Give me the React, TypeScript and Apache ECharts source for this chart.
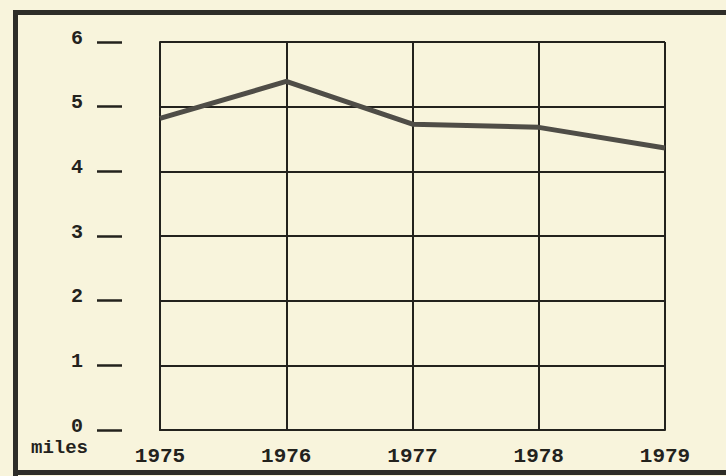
import React, { useEffect, useRef } from "react";
import * as echarts from "echarts";

const years = ["1975", "1976", "1977", "1978", "1979"];
const miles = [4.82, 5.39, 4.73, 4.68, 4.36];
const yTicks = [0, 1, 2, 3, 4, 5, 6];
const unitLabel = "miles";

const INK = "#23221d";
const FONT = "'Liberation Mono', 'DejaVu Sans Mono', monospace";

export default function App() {
  const ref = useRef<HTMLDivElement>(null);
  useEffect(() => {
    if (!ref.current) return;
    const chart = echarts.init(ref.current, null, { renderer: "svg" });
    const yMin = yTicks[0];
    const yMax = yTicks[yTicks.length - 1];
    chart.setOption({
      animation: false,
      backgroundColor: "#f8f4dc",
      title: {
        text: unitLabel,
        left: 31,
        top: 441,
        textStyle: { fontFamily: FONT, fontSize: 19, fontWeight: "bold", color: INK, lineHeight: 14 },
        padding: 0,
      },
      grid: { left: 160, right: 61, top: 42, bottom: 46 },
      xAxis: {
        type: "category",
        data: years,
        boundaryGap: false,
        axisLine: { show: true, lineStyle: { color: INK, width: 2 } },
        axisTick: { show: false },
        splitLine: { show: true, lineStyle: { color: INK, width: 2 } },
        axisLabel: {
          margin: 16,
          fontFamily: FONT,
          fontSize: 21,
          fontWeight: "bold",
          color: INK,
        },
      },
      yAxis: [
        {
          type: "value",
          min: yMin,
          max: yMax,
          interval: 1,
          axisLine: { show: true, lineStyle: { color: INK, width: 2 } },
          axisTick: { show: false },
          axisLabel: { show: false },
          splitLine: { show: true, lineStyle: { color: INK, width: 2 } },
        },
        {
          type: "value",
          position: "left",
          offset: 38,
          min: yMin,
          max: yMax,
          interval: 1,
          axisLine: { show: false },
          axisTick: { show: true, length: 25, lineStyle: { color: INK, width: 2.5 } },
          splitLine: { show: false },
          axisLabel: {
            margin: 39,
            fontFamily: FONT,
            fontSize: 20,
            fontWeight: "bold",
            color: INK,
            lineHeight: 14,
            verticalAlign: "bottom",
            padding: [0, 0, -3, 0],
          },
        },
      ],
      graphic: [
        { type: "rect", shape: { x: 13, y: 10, width: 5, height: 466 }, style: { fill: "#2e2d28" } },
        { type: "rect", shape: { x: 13, y: 10, width: 713, height: 5 }, style: { fill: "#2e2d28" } },
        { type: "rect", shape: { x: 13, y: 470, width: 713, height: 5 }, style: { fill: "#2e2d28" } },
      ],
      series: [
        {
          type: "line",
          data: miles,
          yAxisIndex: 0,
          symbol: "none",
          lineStyle: { color: "#4f4d47", width: 5 },
        },
      ],
    });
    return () => chart.dispose();
  }, []);
  return (
    <div
      ref={ref}
      style={{ position: "fixed", left: 0, top: 0, width: 726, height: 476 }}
    />
  );
}
